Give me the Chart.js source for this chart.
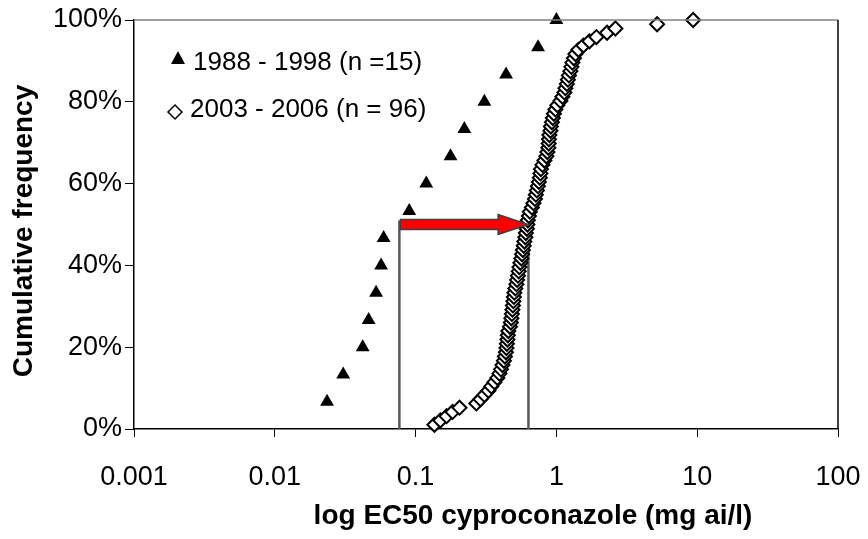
<!DOCTYPE html>
<html>
<head>
<meta charset="utf-8">
<title>EC50 cyproconazole</title>
<script src="https://cdn.jsdelivr.net/npm/chart.js@4.4.0/dist/chart.umd.min.js"></script>
<style>
  html, body { margin: 0; padding: 0; background: #fff; }
  #wrap { width: 868px; height: 539px; }
</style>
</head>
<body>
<div id="wrap"><canvas id="ec50Chart" width="868" height="539"></canvas></div>
<script>
// EC50 (mg ai/l), sorted, 1988 - 1998 isolates
const oldEc50 = [0.0235, 0.0306, 0.0421, 0.0464, 0.0524, 0.0569, 0.0593, 0.0901,
	0.119, 0.177, 0.222, 0.308, 0.439, 0.741, 1.0];
const oldFreq = [6.67, 13.33, 20, 26.67, 33.33, 40, 46.67, 53.33,
	60, 66.67, 73.33, 80, 86.67, 93.33, 100];

// EC50 (mg ai/l), sorted, 2003 - 2006 isolates
const newEc50 = [
	0.136, 0.150, 0.166, 0.183, 0.205, 0.270, 0.289, 0.308, 0.329, 0.345,
	0.363, 0.381, 0.394, 0.404, 0.414, 0.424, 0.431, 0.438, 0.442, 0.445,
	0.449, 0.452, 0.456, 0.468, 0.475, 0.479, 0.483, 0.487, 0.491, 0.495,
	0.499, 0.503, 0.511, 0.520, 0.526, 0.533, 0.540, 0.546, 0.555, 0.564,
	0.571, 0.578, 0.586, 0.592, 0.602, 0.607, 0.617, 0.622, 0.627, 0.638,
	0.648, 0.670, 0.687, 0.704, 0.715, 0.727, 0.739, 0.751, 0.763, 0.770,
	0.776, 0.796, 0.822, 0.849, 0.863, 0.877, 0.882, 0.885, 0.892, 0.907,
	0.914, 0.929, 0.944, 0.960, 0.984, 1.016, 1.068, 1.103, 1.140, 1.159,
	1.187, 1.207, 1.227, 1.257, 1.278, 1.299, 1.331, 1.365, 1.433, 1.555,
	1.716, 1.923, 2.290, 2.624, 5.190, 9.350];
const newFreq = [
	1.04, 2.08, 3.13, 4.17, 5.21, 6.25, 7.29, 8.33, 9.38, 10.42,
	11.46, 12.5, 13.54, 14.58, 15.63, 16.67, 17.71, 18.75, 19.79, 20.83,
	21.88, 22.92, 23.96, 25, 26.04, 27.08, 28.13, 29.17, 30.21, 31.25,
	32.29, 33.33, 34.38, 35.42, 36.46, 37.5, 38.54, 39.58, 40.63, 41.67,
	42.71, 43.75, 44.79, 45.83, 46.88, 47.92, 48.96, 50, 51.04, 52.08,
	53.13, 54.17, 55.21, 56.25, 57.29, 58.33, 59.38, 60.42, 61.46, 62.5,
	63.54, 64.58, 65.63, 66.67, 67.71, 68.75, 69.79, 70.83, 71.88, 72.92,
	73.96, 75, 76.04, 77.08, 78.13, 79.17, 80.21, 81.25, 82.29, 83.33,
	84.38, 85.42, 86.46, 87.5, 88.54, 89.58, 90.63, 91.67, 92.71, 93.75,
	94.79, 95.83, 96.88, 97.92, 98.96, 100];

// median shift (50 %) : old -> new
const medianOld = 0.0767;
const medianNew = 0.633;
const medianLineTop = 51;
const arrowFrom = 0.078;
const arrowTo = 0.63;
const arrowLevel = 50;

const xTickValues = [0.001, 0.01, 0.1, 1, 10, 100];
const xTickLabels = ['0.001', '0.01', '0.1', '1', '10', '100'];
const yTickValues = [0, 20, 40, 60, 80, 100];
const yTickLabels = ['0%', '20%', '40%', '60%', '80%', '100%'];

const legendLabels = ['1988 - 1998 (n =15)', '2003 - 2006 (n = 96)'];
const xTitle = 'log EC50 cyproconazole (mg ai/l)';
const yTitle = 'Cumulative frequency';

const FONT = '"Liberation Sans", Arial, Helvetica, sans-serif';

function toPoints(xs, ys) {
	return xs.map((x, i) => ({ x: x, y: ys[i] }));
}

// 테두리, 화살표, 범례, 축 제목
const decorPlugin = {
	id: 'decor',
	afterDatasetsDraw(chart) {
		const ctx = chart.ctx;
		const xs = chart.scales.x;
		const ys = chart.scales.y;
		const area = chart.chartArea;

		ctx.save();
		// plot area frame (top / right)
		ctx.lineWidth = 1.5;
		ctx.strokeStyle = '#808080';
		ctx.beginPath();
		ctx.moveTo(area.left, area.top);
		ctx.lineTo(area.right, area.top);
		ctx.stroke();
		ctx.strokeStyle = '#000';
		ctx.beginPath();
		ctx.moveTo(area.right, area.top);
		ctx.lineTo(area.right, area.bottom);
		ctx.stroke();

		// red arrow
		const x0 = xs.getPixelForValue(arrowFrom);
		const x1 = xs.getPixelForValue(arrowTo);
		const yA = ys.getPixelForValue(arrowLevel);
		const head = 30, half = 5, headHalf = 10;
		ctx.beginPath();
		ctx.moveTo(x0, yA - half);
		ctx.lineTo(x1 - head, yA - half);
		ctx.lineTo(x1 - head, yA - headHalf);
		ctx.lineTo(x1, yA);
		ctx.lineTo(x1 - head, yA + headHalf);
		ctx.lineTo(x1 - head, yA + half);
		ctx.lineTo(x0, yA + half);
		ctx.closePath();
		ctx.fillStyle = '#ff0000';
		ctx.fill();
		ctx.lineWidth = 1.5;
		ctx.strokeStyle = '#404040';
		ctx.stroke();

		// legend
		ctx.fillStyle = '#000';
		ctx.font = '26px ' + FONT;
		ctx.textAlign = 'left';
		ctx.textBaseline = 'middle';
		ctx.beginPath();
		ctx.moveTo(178, 51);
		ctx.lineTo(185, 64);
		ctx.lineTo(171, 64);
		ctx.closePath();
		ctx.fill();
		ctx.fillText(legendLabels[0], 193, 63);

		ctx.beginPath();
		ctx.moveTo(175, 105);
		ctx.lineTo(182, 112);
		ctx.lineTo(175, 119);
		ctx.lineTo(168, 112);
		ctx.closePath();
		ctx.fillStyle = '#fff';
		ctx.fill();
		ctx.lineWidth = 1.5;
		ctx.strokeStyle = '#000';
		ctx.stroke();
		ctx.fillStyle = '#000';
		ctx.fillText(legendLabels[1], 190, 110);

		// axis titles
		ctx.font = 'bold 28px ' + FONT;
		ctx.textAlign = 'center';
		ctx.fillText(xTitle, 533, 516);
		ctx.translate(24, 231);
		ctx.rotate(-Math.PI / 2);
		ctx.fillText(yTitle, 0, 0);
		ctx.restore();
	}
};

document.addEventListener('DOMContentLoaded', () => {
	const canvas = document.querySelector('#ec50Chart');

	new Chart(canvas, {
		type: 'scatter',
		data: {
			datasets: [{
				label: legendLabels[0],
				data: toPoints(oldEc50, oldFreq),
				pointStyle: 'triangle',
				pointRadius: 8,
				backgroundColor: '#000',
				borderColor: '#000',
				borderWidth: 0,
				clip: false
			}, {
				label: legendLabels[1],
				data: toPoints(newEc50, newFreq),
				pointStyle: 'rectRot',
				pointRadius: 7,
				backgroundColor: '#fff',
				borderColor: '#000',
				borderWidth: 2,
				clip: false
			}, {
				label: 'median old',
				data: [{ x: medianOld, y: 0 }, { x: medianOld, y: medianLineTop }],
				showLine: true,
				pointRadius: 0,
				borderColor: '#595959',
				borderWidth: 2.5
			}, {
				label: 'median new',
				data: [{ x: medianNew, y: 0 }, { x: medianNew, y: medianLineTop }],
				showLine: true,
				pointRadius: 0,
				borderColor: '#595959',
				borderWidth: 2.5
			}]
		},
		options: {
			responsive: false,
			animation: false,
			devicePixelRatio: 1,
			layout: { padding: { top: 20, right: 30, left: 0, bottom: 0 } },
			plugins: {
				legend: { display: false },
				tooltip: { enabled: false }
			},
			scales: {
				x: {
					type: 'logarithmic',
					min: 0.001,
					max: 100,
					afterBuildTicks: (s) => { s.ticks = xTickValues.map(v => ({ value: v })); },
					afterFit: (s) => {
						s.height = 110;
						s.paddingLeft = 0;
						s.paddingRight = 0;
					},
					ticks: {
						autoSkip: false,
						maxRotation: 0,
						padding: 24,
						color: '#000',
						font: { family: FONT, size: 27 },
						callback: (v, i) => xTickLabels[i]
					},
					grid: { drawOnChartArea: false, tickLength: 8, color: '#000', tickWidth: 1 },
					border: { color: '#000', width: 1.5 }
				},
				y: {
					min: 0,
					max: 100,
					afterBuildTicks: (s) => { s.ticks = yTickValues.map(v => ({ value: v })); },
					afterFit: (s) => {
						s.width = 134;
						s.paddingTop = 0;
						s.paddingBottom = 0;
					},
					ticks: {
						padding: 3,
						color: '#000',
						font: { family: FONT, size: 27 },
						callback: (v, i) => yTickLabels[i]
					},
					grid: { drawOnChartArea: false, tickLength: 9, color: '#000', tickWidth: 1 },
					border: { color: '#000', width: 1.5 }
				}
			}
		},
		plugins: [decorPlugin]
	});
});
</script>
</body>
</html>
